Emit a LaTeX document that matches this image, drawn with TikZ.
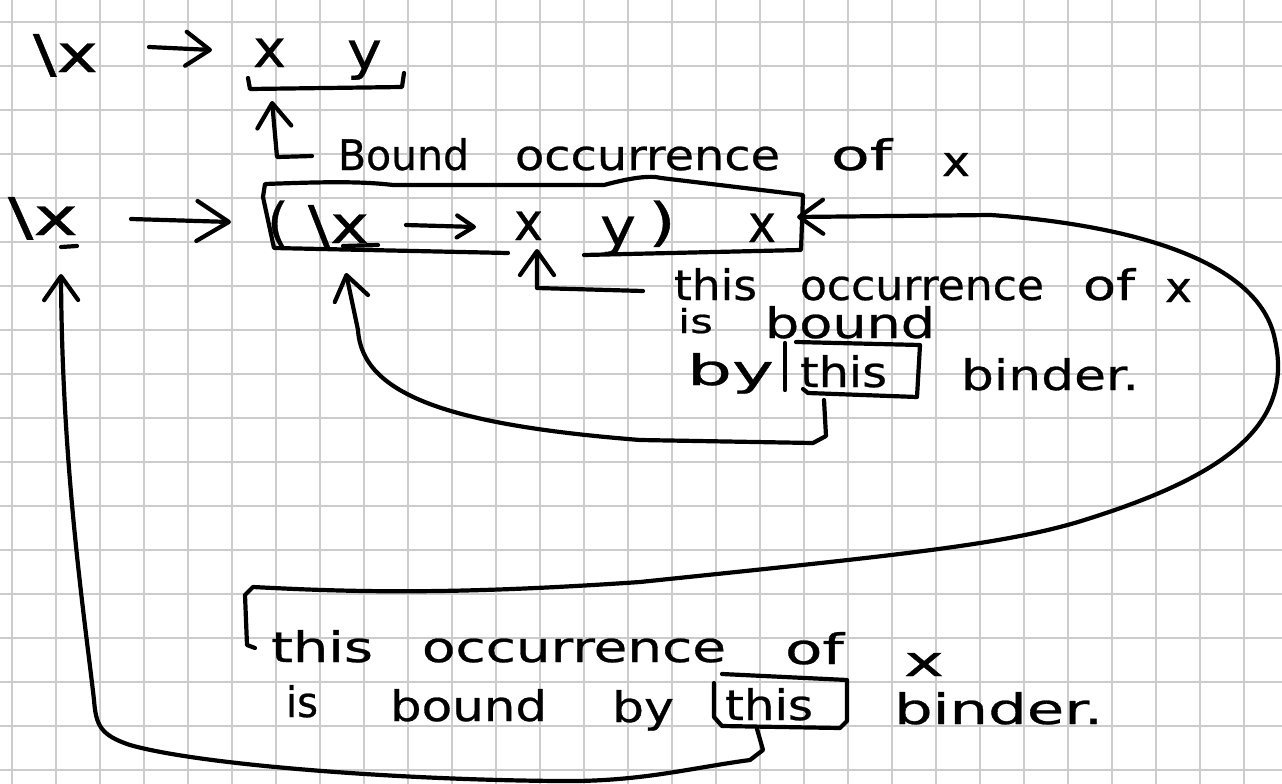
\documentclass[tikz,border=0pt]{standalone}
\usepackage{fontspec}
\usepackage{graphicx}
\usetikzlibrary{arrows.meta}
\newfontfamily\hand[FakeBold=0.6]{DejaVu Sans}
\newcommand\hw[2]{\resizebox{#1pt}{\height}{#2}}
\newcommand\hwh[3]{\resizebox{#1pt}{#2pt}{#3}}
\begin{document}
\begin{tikzpicture}[x=1pt,y=-1pt,
 pen/.style={line width=4.2pt,line cap=round,line join=round},
 txt/.style={anchor=base west,inner sep=0pt,outer sep=0pt,font=\hand\fontsize{42}{48}\selectfont},
 expr/.style={txt,font=\hand\fontsize{52}{58}\selectfont},
 hdS/.style={-{Straight Barb[round,length=17pt,width=22pt]}},
 hdM/.style={-{Straight Barb[round,length=24pt,width=34pt]}},
 hdL/.style={-{Straight Barb[round,length=32pt,width=40pt]}},
 gridln/.style={line width=1.5pt,draw=black!20}]
\fill[white] (0,0) rectangle (1282,784);
\useasboundingbox (0,0) rectangle (1282,784);
\foreach \i in {0,...,29} \draw[gridln] (12+44*\i,0) -- (12+44*\i,784);
\foreach \j in {0,...,17} \draw[gridln] (0,22+44*\j) -- (1282,22+44*\j);

% ---- top row
\node[expr] (lam1) at (33,72) {\hw{65}{\textbackslash x}};
\node[expr] (x1) at (253,67) {\hw{33}{x}};
\node[expr] (y1) at (347,69) {\hw{35}{y}};
\coordinate (a1s) at (149,47);
\coordinate (a1e) at (212,50);
\draw[pen,hdM] (a1s) -- (a1e);
\coordinate (br1a) at (248,78);
\coordinate (br1b) at (404,73);
\draw[pen] (br1a) -- (250,89) -- (402,87) -- (br1b);

% label 1
\node[txt] (l1w1) at (338,170) {\hw{131}{Bound}};
\node[txt] (l1w2) at (515,170) {\hw{265}{occurrence}};
\node[txt] (l1w3) at (831,170) {\hw{61}{of}};
\node[txt] (l1w4) at (942,176) {\hw{28}{x}};
\coordinate (l1s) at (312,156);
\coordinate (l1t) at (272,101);
\draw[pen,hdM] (l1s) -- (277,157) -- (l1t);

% ---- second row
\node[expr] (lam2) at (8,235) {\hw{70}{\textbackslash x}};
\draw[pen] (61,247) -- (77,246);
\coordinate (a2s) at (131,219);
\coordinate (a2e) at (231,222);
\draw[pen,hdL] (a2s) -- (a2e);

% box around the term
\draw[pen] (508,253) -- (274,248) -- (263,197) -- (265,184)
  .. controls (320,182) and (360,181) .. (393,185)
  -- (604,185) .. controls (630,178) and (650,175) .. (661,178)
  -- (803,195) -- (801,250) -- (584,255);

\node[expr] (lp) at (267,240) {\hw{22}{(}};
\node[expr] (lam3) at (308,243) {\hw{61}{\textbackslash x}};
\draw[pen] (343,246) -- (378,245);
\coordinate (a3s) at (406,225);
\coordinate (a3e) at (476,227);
\draw[pen,hdS] (a3s) -- (a3e);
\node[expr] (x2) at (514,240) {\hw{29}{x}};
\node[expr] (y2) at (600,245) {\hw{36}{y}};
\node[expr] (rp) at (648,240) {\hw{28}{)}};
\node[expr] (x3) at (748,242) {\hw{28}{x}};

% label 2
\node[txt] (l2w1) at (674,300) {\hw{83}{this}};
\node[txt] (l2w2) at (800,300) {\hw{244}{occurrence}};
\node[txt] (l2w3) at (1083,300) {\hw{52}{of}};
\node[txt] (l2w4) at (1165,302) {\hw{27}{x}};
\node[txt] (l2w5) at (678,333) {\hwh{35}{25}{is}};
\node[txt] (l2w6) at (765,338) {\hw{170}{bound}};
\node[txt] (l2w7) at (687,385) {\hw{87}{by}};
\node[txt] (l2w8) at (800,387) {\hw{87}{this}};
\node[txt] (l2w9) at (961,390) {\hw{178}{binder.}};
\draw[pen] (785,343) -- (785,390);
\draw[pen] (803,389) -- (808,393) -- (917,397) -- (920,345) -- (796,342);
\coordinate (l2s) at (643,291);
\coordinate (l2t) at (537,249);
\draw[pen,hdM] (l2s) -- (537,288) -- (l2t);

% connector from middle "this" box to inner binder
\coordinate (c2s) at (824,400);
\coordinate (c2t) at (346,273);
\draw[pen,hdM] (c2s) -- (826,436) -- (813,443) -- (640,440)
  .. controls (450,425) and (362,395) .. (358,330) -- (c2t);

% ---- bottom label
\node[txt] (l3w1) at (271,662) {\hw{102}{this}};
\node[txt] (l3w2) at (422,662) {\hw{304}{occurrence}};
\node[txt] (l3w3) at (785,664) {\hw{59}{of}};
\node[txt] (l3w4) at (904,676) {\hw{40}{x}};
\node[txt] (l3w5) at (286,717) {\hw{32}{is}};
\node[txt] (l3w6) at (390,721) {\hw{157}{bound}};
\node[txt] (l3w7) at (612,722) {\hw{62}{by}};
\node[txt] (l3w8) at (725,720) {\hw{88}{this}};
\node[txt] (l3w9) at (894,724) {\hw{209}{binder.}};
\draw[pen] (714,683) -- (714,717) -- (722,726) -- (840,728) -- (847,721) -- (847,680) -- (722,674);

% connector from bottom box to outer binder
\coordinate (c1s) at (757,729);
\coordinate (c1t) at (61,274);
\draw[pen,hdM] (c1s) -- (763,750) -- (750,760)
  .. controls (690,768) and (640,782) .. (560,781)
  .. controls (400,780) and (200,765) .. (130,745)
  .. controls (100,735) and (96,725) .. (94,700)
  .. controls (85,620) and (62,470) .. (c1t);

% big loop from bottom label to the outer x
\coordinate (c3s) at (255,648);
\coordinate (c3t) at (797,217);
\draw[pen,hdM] (c3s) -- (247,645) -- (245,595) -- (253,587)
  .. controls (350,592) and (450,595) .. (640,582)
  .. controls (900,555) and (1000,545) .. (1078,522)
  .. controls (1215,480) and (1295,430) .. (1275,340)
  .. controls (1260,260) and (1130,225) .. (991,215) -- (c3t);
\end{tikzpicture}
\end{document}
